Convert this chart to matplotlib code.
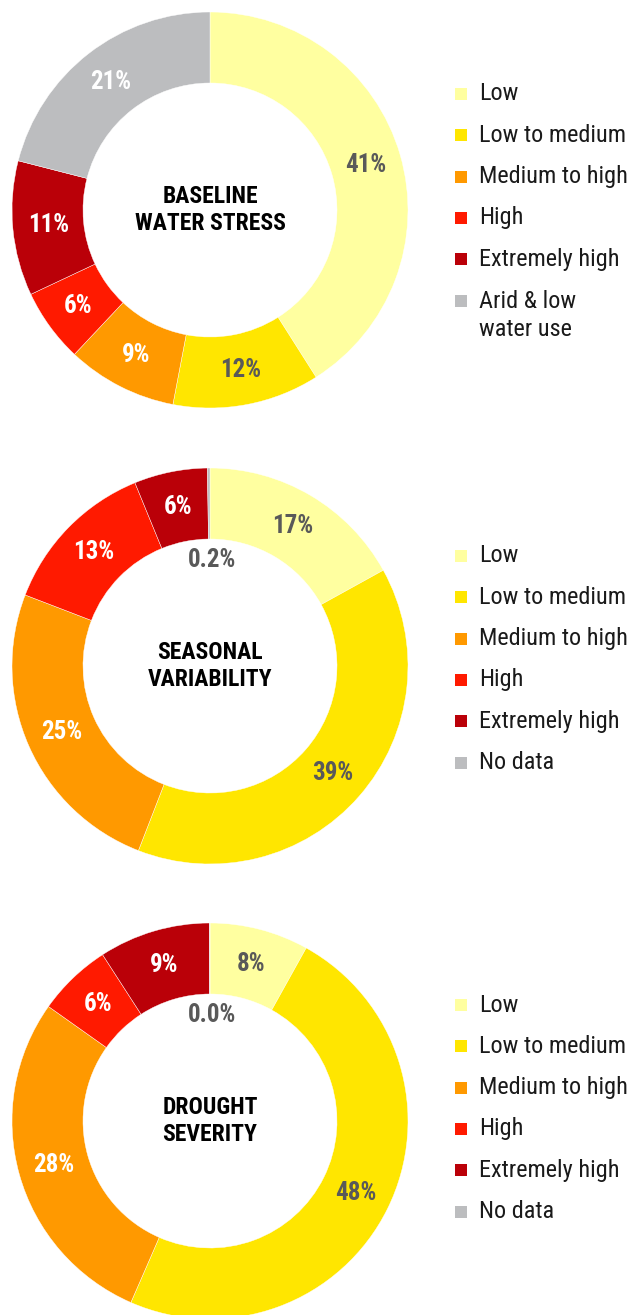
import matplotlib
matplotlib.use("Agg")
import numpy as np
import matplotlib.pyplot as plt
from matplotlib.patches import Rectangle

# ---- data -------------------------------------------------------------
stress_categories = ["Low", "Low to medium", "Medium to high", "High",
                     "Extremely high", "Arid & low\nwater use"]
stress_values = [41, 12, 9, 6, 11, 21]

seasonal_categories = ["Low", "Low to medium", "Medium to high", "High",
                       "Extremely high", "No data"]
seasonal_values = [17, 39, 25, 13, 6, 0.2]

drought_categories = ["Low", "Low to medium", "Medium to high", "High",
                      "Extremely high", "No data"]
drought_values = [8, 48, 28, 6, 9, 0.04]

chart_titles = ["BASELINE\nWATER STRESS", "SEASONAL\nVARIABILITY",
                "DROUGHT\nSEVERITY"]

# ---- styling ----------------------------------------------------------
colors = ["#FFFFA0", "#FFE600", "#FF9900", "#FF1A00", "#BA0008", "#BCBDBF"]
label_colors = ["#595959", "#595959", "white", "white", "white", "white"]

W, H = 639, 1315
DPI = 100
FONT = ["Liberation Sans Narrow", "Roboto Condensed", "Liberation Sans",
        "DejaVu Sans"]

fig = plt.figure(figsize=(W / DPI, H / DPI), dpi=DPI)
fig.patch.set_facecolor("white")

R_OUT = 198.0
R_IN = 127.0
centers = [(210, 210), (210, 666), (210, 1121)]
legend_tops = [94, 556, 1005]
ROW_STEP = 41.3


def fx(px):
    return px / W


def fy(py):
    return 1 - py / H


def fmt(v):
    return f"{v:.1f}%" if v < 1 else f"{v:.0f}%"


datasets = [
    (stress_categories, stress_values),
    (seasonal_categories, seasonal_values),
    (drought_categories, drought_values),
]

for (cats, vals), title, (cx, cy), ltop in zip(datasets, chart_titles,
                                                 centers, legend_tops):
    ax = fig.add_axes([fx(cx - R_OUT), fy(cy + R_OUT),
                       2 * R_OUT / W, 2 * R_OUT / H])

    wedges, _ = ax.pie(vals, colors=colors, startangle=90, counterclock=False,
                       radius=1.0,
                       wedgeprops=dict(width=1 - R_IN / R_OUT,
                                       linewidth=0.3, edgecolor="#FFFFFF"))
    ax.set_xlim(-1, 1)
    ax.set_ylim(-1, 1)
    ax.set_aspect("equal")
    ax.axis("off")
    for w in wedges:
        w.set_clip_on(False)

    # value labels at the ring's mid radius; tiny slices sit inside the hole
    for w, v, lc in zip(wedges, vals, label_colors):
        ang = np.deg2rad((w.theta1 + w.theta2) / 2)
        if v < 1:
            x, y = 0.01, 0.535
            col = "#595959"
        else:
            r = (1 + R_IN / R_OUT) / 2
            x, y = r * np.cos(ang), r * np.sin(ang)
            col = lc
        ax.text(x, y, fmt(v), ha="center", va="center", color=col,
                fontsize=18, fontweight="bold", family=FONT, clip_on=False)

    ax.text(0, 0, title, ha="center", va="center", color="black",
            fontsize=17, fontweight="bold", family=FONT, linespacing=1.2)

    # legend
    for i, (cat, col) in enumerate(zip(cats, colors)):
        yc = ltop + i * ROW_STEP
        fig.patches.append(Rectangle((fx(455), fy(yc + 6)), 12 / W, 12 / H,
                                     transform=fig.transFigure,
                                     facecolor=col, edgecolor="none"))
        ty = yc + 15 if "\n" in cat else yc
        fig.text(fx(479), fy(ty), cat, ha="left", va="center",
                 color="#1A1A1A", fontsize=17.5, family=FONT,
                 linespacing=1.25)

fig.savefig("out.png", dpi=DPI, facecolor="white")
